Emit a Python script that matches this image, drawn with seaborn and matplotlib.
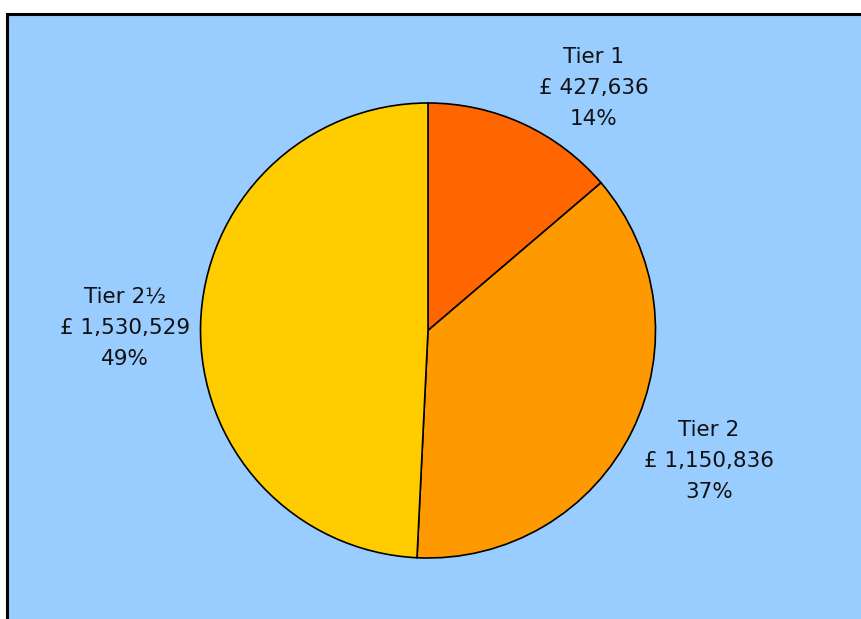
import matplotlib
matplotlib.use("Agg")
import matplotlib.pyplot as plt
from matplotlib.patches import Rectangle
import seaborn as sns

# Funding split by tier
tiers = ["Tier 1", "Tier 2", "Tier 2½"]
amounts = [427636, 1150836, 1530529]
colors = ["#FF6600", "#FF9900", "#FFCC00"]

sns.set_style("white")
plt.rcParams["font.family"] = ["DejaVu Sans"]

W, H = 861, 619
fig = plt.figure(figsize=(W / 100, H / 100), dpi=100)
fig.patch.set_facecolor("white")
ax = fig.add_axes([0, 0, 1, 1])
ax.set_xlim(0, W)
ax.set_ylim(0, H)
ax.set_aspect("equal")
ax.axis("off")

# plot area panel
ax.add_patch(Rectangle((7, -20), W + 20, H - 14 + 20, facecolor="#99CCFF",
                       edgecolor="black", linewidth=2.2, zorder=0))

cx, cy, r = 428, H - 330.5, 227.5
ax.pie(amounts, colors=colors, startangle=90, counterclock=False,
       center=(cx, cy), radius=r, frame=True,
       wedgeprops=dict(edgecolor="black", linewidth=1.2))
ax.set_xlim(0, W)
ax.set_ylim(0, H)
ax.axis("off")

total = sum(amounts)
label_pos = {"Tier 1": (594, 88), "Tier 2": (709, 461), "Tier 2½": (125, 328)}
for name, val in zip(tiers, amounts):
    x, y = label_pos[name]
    pct = round(100 * val / total)
    txt = f"{name}\n£ {val:,}\n{pct}%"
    ax.text(x, H - y, txt, ha="center", va="center", fontsize=15.5,
            color="#111111", linespacing=1.7, zorder=5)

fig.savefig("out.png", dpi=100, facecolor="white")
